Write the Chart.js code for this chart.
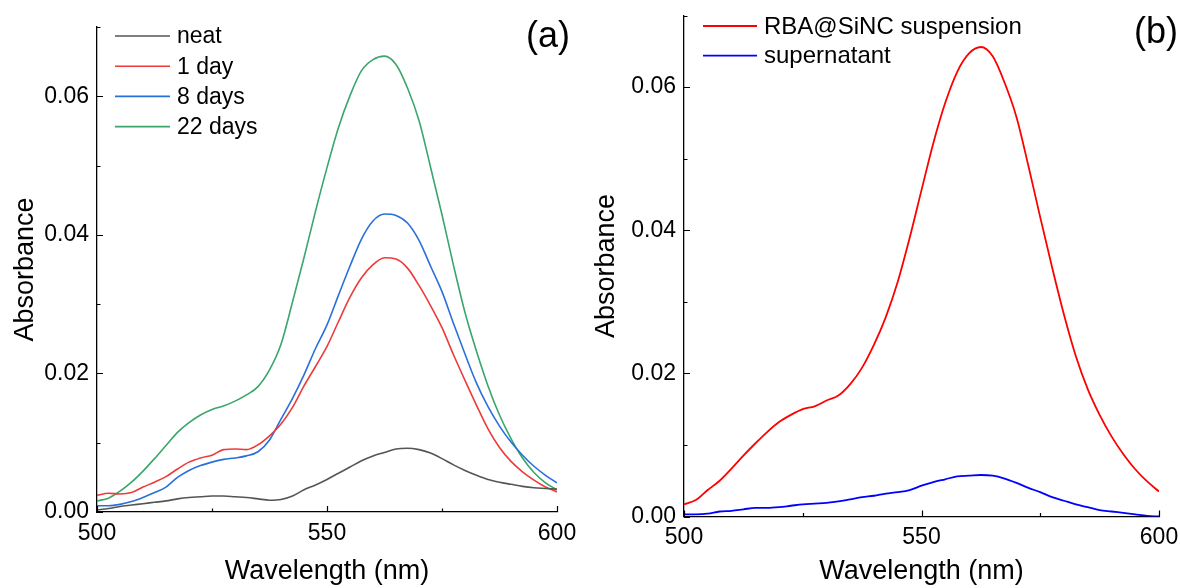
<!DOCTYPE html>
<html>
<head>
<meta charset="utf-8">
<script src="https://cdn.jsdelivr.net/npm/chart.js@4.4.1/dist/chart.umd.min.js"></script>
<style>
  html, body { margin: 0; padding: 0; background: #fff; }
  #wrap { position: relative; width: 1180px; height: 588px; overflow: hidden; }
  .panel { position: absolute; top: 0; width: 590px; height: 588px; }
</style>
</head>
<body>
<div id="wrap">
  <div class="panel" style="left:0"><canvas id="ca" width="590" height="588"></canvas></div>
  <div class="panel" style="left:590px"><canvas id="cb" width="590" height="588"></canvas></div>
</div>
<script>
// ---------- data ----------
const wavelengths = [500,502.5,505,507.5,510,512.5,515,517.5,520,522.5,525,527.5,530,532.5,535,537.5,540,542.5,545,547.5,550,552.5,555,557.5,560,562.5,565,567.5,570,572.5,575,577.5,580,582.5,585,587.5,590,592.5,595,597.5,600];

// panel (a)
const neat    = [0.0003,0.0005,0.0008,0.0010,0.0012,0.0014,0.0016,0.0019,0.0021,0.0022,0.0023,0.0023,0.0022,0.0021,0.0019,0.0017,0.0018,0.0023,0.0032,0.0039,0.0047,0.0056,0.0065,0.0074,0.0081,0.0086,0.0091,0.0092,0.0090,0.0085,0.0077,0.0068,0.0060,0.0053,0.0047,0.0043,0.0040,0.0037,0.0035,0.0034,0.0033];
const day1    = [0.0024,0.0027,0.0026,0.0028,0.0036,0.0043,0.0051,0.0062,0.0072,0.0078,0.0082,0.0090,0.0091,0.0090,0.0097,0.0110,0.0127,0.0151,0.0182,0.0210,0.0239,0.0275,0.0310,0.0338,0.0357,0.0367,0.0365,0.0352,0.0327,0.0298,0.0266,0.0227,0.0190,0.0154,0.0120,0.0093,0.0073,0.0058,0.0046,0.0036,0.0029];
const days8   = [0.0009,0.0009,0.0011,0.0015,0.0021,0.0028,0.0036,0.0050,0.0060,0.0067,0.0072,0.0076,0.0078,0.0081,0.0087,0.0104,0.0134,0.0164,0.0198,0.0236,0.0270,0.0313,0.0355,0.0394,0.0420,0.0430,0.0428,0.0417,0.0392,0.0355,0.0318,0.0272,0.0228,0.0186,0.0152,0.0124,0.0101,0.0082,0.0066,0.0053,0.0042];
const days22  = [0.0016,0.0020,0.0030,0.0043,0.0059,0.0077,0.0096,0.0115,0.0129,0.0140,0.0148,0.0153,0.0160,0.0169,0.0181,0.0205,0.0242,0.0303,0.0367,0.0434,0.0497,0.0555,0.0601,0.0637,0.0653,0.0658,0.0646,0.0612,0.0565,0.0498,0.0429,0.0356,0.0288,0.0232,0.0182,0.0140,0.0106,0.0078,0.0057,0.0042,0.0032];

// panel (b)
const suspension  = [0.0017,0.0023,0.0037,0.0050,0.0067,0.0085,0.0102,0.0118,0.0132,0.0142,0.0150,0.0154,0.0162,0.0169,0.0185,0.0208,0.0240,0.0279,0.0328,0.0389,0.0456,0.0522,0.0578,0.0621,0.0647,0.0656,0.0643,0.0606,0.0558,0.0490,0.0418,0.0348,0.0282,0.0224,0.0178,0.0142,0.0112,0.0087,0.0066,0.0049,0.0035];
const supernatant = [0.0003,0.0003,0.0004,0.0007,0.0008,0.0010,0.0012,0.0012,0.0013,0.0015,0.0017,0.0018,0.0019,0.0021,0.0024,0.0027,0.0029,0.0032,0.0034,0.0037,0.0043,0.0048,0.0052,0.0056,0.0057,0.0058,0.0057,0.0053,0.0047,0.0040,0.0034,0.0027,0.0022,0.0017,0.0013,0.0009,0.0007,0.0005,0.0003,0.0001,0.0000];

const labelsA = ['neat', '1 day', '8 days', '22 days'];
const labelsB = ['RBA@SiNC suspension', 'supernatant'];

const xMajorTicks = [500, 550, 600];
const xMinorTicks = [525, 575];
const yMajorTicks = [0, 0.02, 0.04, 0.06];
const yMinorTicks = [0.01, 0.03, 0.05, 0.07];

// ---------- helpers ----------
const FONT = "'Liberation Sans', Arial, sans-serif";
const pts = arr => wavelengths.map((w, i) => ({x: w, y: arr[i]}));

const decor = {
  id: 'decor',
  afterDraw(chart, args, o) {
    const {ctx, chartArea: a, scales: {x, y}} = chart;
    ctx.save();
    // inward tick marks
    ctx.strokeStyle = '#000';
    ctx.lineWidth = 1.2;
    ctx.beginPath();
    xMajorTicks.forEach(v => { const p = Math.round(x.getPixelForValue(v)) + 0.5; ctx.moveTo(p, a.bottom); ctx.lineTo(p, a.bottom - 6); });
    xMinorTicks.forEach(v => { const p = Math.round(x.getPixelForValue(v)) + 0.5; ctx.moveTo(p, a.bottom); ctx.lineTo(p, a.bottom - 3.5); });
    yMajorTicks.forEach(v => { const p = Math.round(y.getPixelForValue(v)) + 0.5; ctx.moveTo(a.left, p); ctx.lineTo(a.left + 6, p); });
    yMinorTicks.forEach(v => { const p = Math.round(y.getPixelForValue(v)) + 0.5; ctx.moveTo(a.left, p); ctx.lineTo(a.left + 3.5, p); });
    ctx.stroke();
    // legend
    ctx.font = o.legendSize + 'px ' + FONT;
    ctx.textBaseline = 'middle';
    ctx.textAlign = 'left';
    chart.data.datasets.forEach((ds, i) => {
      const yy = a.top + o.legendTop + i * o.legendGap;
      ctx.strokeStyle = ds.borderColor;
      ctx.lineWidth = ds.borderWidth;
      ctx.beginPath();
      ctx.moveTo(a.left + o.legendX0, yy);
      ctx.lineTo(a.left + o.legendX1, yy);
      ctx.stroke();
      ctx.fillStyle = '#000';
      ctx.fillText(ds.label, a.left + o.legendText, yy + 1);
    });
    // panel label
    ctx.font = '36px ' + FONT;
    ctx.textAlign = 'center';
    ctx.fillStyle = '#000';
    ctx.fillText(o.panel, o.panelX, o.panelY);
    ctx.restore();
  }
};

function makeChart(id, datasets, geo) {
  return new Chart(document.getElementById(id), {
    type: 'line',
    data: { datasets },
    plugins: [decor],
    options: {
      responsive: false,
      animation: false,
      devicePixelRatio: 1,
      layout: { padding: { top: geo.top, right: geo.right, left: 0, bottom: 0 } },
      elements: { point: { radius: 0 }, line: { cubicInterpolationMode: 'monotone' } },
      plugins: {
        legend: { display: false },
        tooltip: { enabled: false },
        decor: geo.decor
      },
      scales: {
        x: {
          type: 'linear', min: 500, max: 600,
          grid: { display: false, drawTicks: false },
          border: { display: true, color: '#000', width: 1.3 },
          afterBuildTicks: s => { s.ticks = xMajorTicks.map(v => ({value: v})); },
          afterFit: s => { s.height = geo.xh; s.paddingLeft = 0; s.paddingRight = 0; },
          ticks: { color: '#000', padding: geo.xpad, font: { family: FONT, size: 23 }, maxRotation: 0, callback: v => String(v) },
          title: { display: true, text: 'Wavelength (nm)', color: '#000', font: { family: FONT, size: 27 }, padding: { top: 0, bottom: geo.xtp } }
        },
        y: {
          type: 'linear', min: 0, max: 0.07,
          grid: { display: false, drawTicks: false },
          border: { display: true, color: '#000', width: 1.3 },
          afterBuildTicks: s => { s.ticks = yMajorTicks.map(v => ({value: v})); },
          afterFit: s => { s.width = geo.yw; s.paddingTop = 0; s.paddingBottom = 0; },
          ticks: { color: '#000', padding: 8, font: { family: FONT, size: 23 }, callback: v => Number(v).toFixed(2) },
          title: { display: true, text: 'Absorbance', color: '#000', font: { family: FONT, size: 27 }, padding: { top: geo.ytp, bottom: 0 } }
        }
      }
    }
  });
}

makeChart('ca', [
  { label: labelsA[0], data: pts(neat),   borderColor: '#555555', borderWidth: 1.6 },
  { label: labelsA[1], data: pts(day1),   borderColor: '#ec3b3b', borderWidth: 1.6 },
  { label: labelsA[2], data: pts(days8),  borderColor: '#2a70dc', borderWidth: 1.6 },
  { label: labelsA[3], data: pts(days22), borderColor: '#3aa66c', borderWidth: 1.6 }
], { top: 27, right: 33, xh: 76, yw: 97, xtp: 0, ytp: 9, xpad: 8,
     decor: { legendTop: 9, legendGap: 30.2, legendX0: 18, legendX1: 73, legendText: 80, legendSize: 23, panel: '(a)', panelX: 548, panelY: 37 } });

makeChart('cb', [
  { label: labelsB[0], data: pts(suspension),  borderColor: '#ff0000', borderWidth: 1.8 },
  { label: labelsB[1], data: pts(supernatant), borderColor: '#0000ff', borderWidth: 1.8 }
], { top: 15.5, right: 21, xh: 71.5, yw: 94, xtp: 0, ytp: 0, xpad: 7.5,
     decor: { legendTop: 10.5, legendGap: 29.7, legendX0: 19, legendX1: 73, legendText: 80, legendSize: 24, panel: '(b)', panelX: 566, panelY: 33 } });
</script>
</body>
</html>
